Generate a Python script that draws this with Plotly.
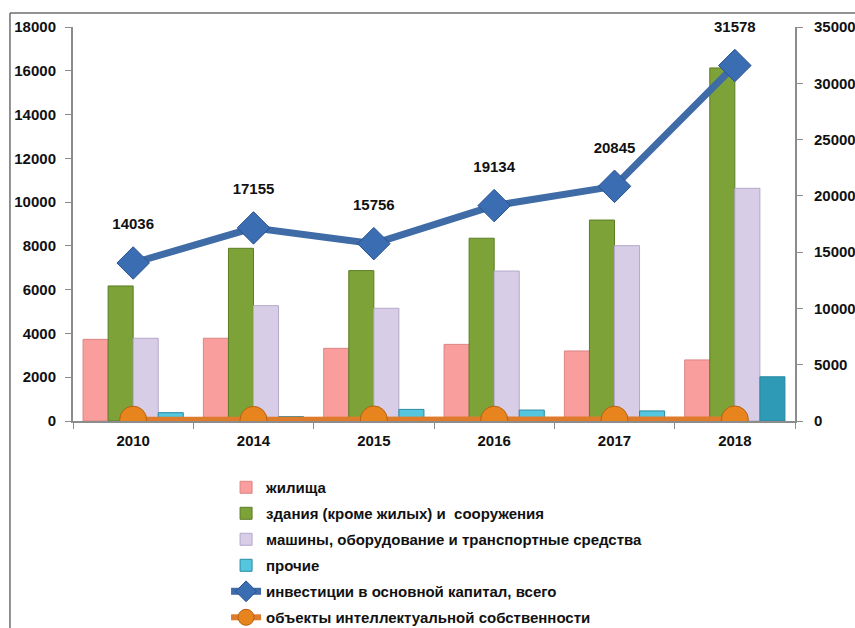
import plotly.graph_objects as go

years = ["2010", "2014", "2015", "2016", "2017", "2018"]
housing = [3730, 3780, 3320, 3500, 3200, 2790]
buildings = [6170, 7890, 6870, 8350, 9180, 16130]
machinery = [3780, 5270, 5150, 6850, 8010, 10630]
other = [380, 200, 530, 500, 460, 2020]
total = [14036, 17155, 15756, 19134, 20845, 31578]
intellectual = [60, 50, 70, 60, 60, 70]

names = [
    "жилища",
    "здания (кроме жилых) и  сооружения",
    "машины, оборудование и транспортные средства",
    "прочие",
    "инвестиции в основной капитал, всего",
    "объекты интеллектуальной собственности",
]

FONT = "Liberation Sans"
fig = go.Figure()

other_colors = ["#55C6E0"] * (len(years) - 1) + ["#2E9AB6"]
bar_specs = [
    (housing, "#FA9D9D", "#DA8585"),
    (buildings, "#7CA238", "#5C7C26"),
    (machinery, "#D7CDE6", "#B4A9C8"),
    (other, other_colors, "#2A8AA4"),
]
for i, (vals, col, edge) in enumerate(bar_specs):
    fig.add_trace(go.Bar(
        x=years, y=vals, name=names[i], legendgroup=f"g{i}", legendrank=i + 1,
        marker=dict(color=col, line=dict(color=edge, width=1)),
    ))

fig.add_trace(go.Scatter(
    x=years, y=intellectual, name=names[5], legendgroup="g5", legendrank=6,
    mode="lines+markers",
    line=dict(color="#DE7C2C", width=6),
    marker=dict(symbol="circle", size=27, color="#E8841E",
                line=dict(color="#B85F10", width=1)),
))

fig.add_trace(go.Scatter(
    x=years, y=total, name=names[4], legendgroup="g4", legendrank=5,
    mode="lines+markers", yaxis="y2",
    line=dict(color="#3F6BA6", width=7),
    marker=dict(symbol="diamond", size=25, color="#3B6DB3",
                line=dict(color="#2A5290", width=1)),
))

# value labels above the total line (invisible spacer markers set the offset)
fig.add_trace(go.Scatter(
    x=years, y=total, yaxis="y2", mode="markers+text", showlegend=False,
    hoverinfo="skip", text=[str(v) for v in total], textposition="top center",
    textfont=dict(family=FONT, size=15, color="#111", weight="bold"),
    marker=dict(size=46, opacity=0), cliponaxis=False,
))

# Chart frame (left and top edges visible)
fig.add_shape(type="line", xref="paper", yref="paper", x0=-0.0873, x1=-0.0873, y0=-0.6, y1=1.0355,
              line=dict(color="#6E6E6E", width=1.5))
fig.add_shape(type="line", xref="paper", yref="paper", x0=-0.0873, x1=1.1, y0=1.0355, y1=1.0355,
              line=dict(color="#6E6E6E", width=1.5))

fig.update_layout(
    width=855, height=628,
    margin=dict(l=73, r=60, t=27, b=207, autoexpand=False),
    plot_bgcolor="white", paper_bgcolor="white",
    barmode="group", bargap=0.167, bargroupgap=0,
    font=dict(family=FONT, size=14, color="#111"),
    xaxis=dict(
        type="category", categoryorder="array", categoryarray=years,
        range=[-0.5, len(years) - 0.5],
        showline=True, linecolor="#8C8C8C", linewidth=2,
        ticks="outside", tickson="boundaries", ticklen=6, tickcolor="#8C8C8C",
        tickfont=dict(family=FONT, size=15, weight="bold"), ticklabelstandoff=5,
        showgrid=False, zeroline=False, automargin=False,
    ),
    yaxis=dict(
        range=[0, 18000], dtick=2000, showline=True, linecolor="#8C8C8C", linewidth=2,
        ticks="outside", ticklen=6, tickcolor="#8C8C8C", showgrid=False, zeroline=False,
        tickformat="d", ticklabelstandoff=6, automargin=False,
        tickfont=dict(family=FONT, size=15, weight="bold"),
    ),
    yaxis2=dict(
        range=[0, 35000], dtick=5000, overlaying="y", side="right", showline=True,
        linecolor="#8C8C8C", linewidth=2, ticks="outside", ticklen=6, tickcolor="#8C8C8C",
        showgrid=False, zeroline=False, tickformat="d", ticklabelstandoff=8, automargin=False,
        tickfont=dict(family=FONT, size=15, weight="bold"),
    ),
    legend=dict(
        x=0.212, y=-0.127, xanchor="left", yanchor="top",
        traceorder="grouped", tracegroupgap=3.5,
        font=dict(family=FONT, size=15, color="#111", weight="bold"),
        bgcolor="rgba(0,0,0,0)",
    ),
    showlegend=True,
)

fig.write_html("out.html", config={"displayModeBar": False},
               post_script="document.body.style.margin='0';document.body.style.overflow='hidden';")
